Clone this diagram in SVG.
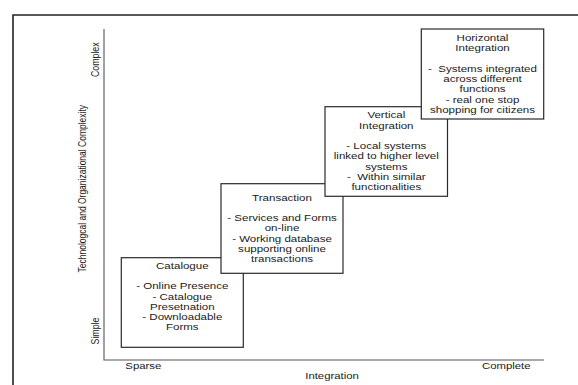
<svg xmlns="http://www.w3.org/2000/svg" width="578" height="385" viewBox="0 0 578 385">
<style>
text{font-family:"Liberation Sans",Arial,sans-serif;font-size:8.8px;fill:#1a1a1a;text-anchor:middle;white-space:pre}
.box{fill:#fff;stroke:#2a2a2a;stroke-width:1.2}
.axis{stroke:#555;stroke-width:1.1;fill:none}
.frame{stroke:#222;stroke-width:1.6;fill:none}
</style>
<rect width="578" height="385" fill="#fff"/>
<path class="frame" d="M13,385 V15 H578"/>
<g id="axes">
<path class="axis" d="M104,29 V360 H544"/>
<g transform="translate(143.3,0) scale(1.29,1)"><text x="0" y="369">Sparse</text></g>
<g transform="translate(506.3,0) scale(1.29,1)"><text x="0" y="369">Complete</text></g>
<g transform="translate(332,0) scale(1.29,1)"><text x="0" y="379.2">Integration</text></g>
<g transform="translate(95,59.7) scale(1.31,1) rotate(-90)"><text x="0" y="3.2">Complex</text></g>
<g transform="translate(95,331) scale(1.31,1) rotate(-90)"><text x="0" y="3.2">Simple</text></g>
<g transform="translate(81.8,188.7) scale(1.31,1) rotate(-90)"><text x="0" y="3.2" style="font-size:8.5px">Technologcal and Organizational Complexity</text></g>
</g>
<g id="connectors"></g>
<g id="catalogue">
<rect class="box" x="121.3" y="257.7" width="122" height="89.6"/>
<g transform="translate(182.3,0) scale(1.31,1)">
<text x="0" y="269.2">Catalogue</text>
<text x="0" y="289.5">- Online Presence</text>
<text x="0" y="299.9">- Catalogue</text>
<text x="0" y="309.9">Presetnation</text>
<text x="0" y="320.2">- Downloadable</text>
<text x="0" y="330.5">Forms</text>
</g>
</g>
<g id="transaction">
<rect class="box" x="221" y="183.7" width="122" height="89.6"/>
<g transform="translate(282,0) scale(1.31,1)">
<text x="0" y="200.9">Transaction</text>
<text x="0" y="221.2">- Services and Forms</text>
<text x="0" y="231.5">on-line</text>
<text x="0" y="241.9">- Working database</text>
<text x="0" y="251.9">supporting online</text>
<text x="0" y="262.2">transactions</text>
</g>
</g>
<g id="vertical">
<rect class="box" x="325" y="106.7" width="122.5" height="89.6"/>
<g transform="translate(386.3,0) scale(1.31,1)">
<text x="0" y="118.5">Vertical</text>
<text x="0" y="128.9">Integration</text>
<text x="0" y="149.2">- Local systems</text>
<text x="0" y="159.5">linked to higher level</text>
<text x="0" y="169.9">systems</text>
<text x="0" y="180.2">-  Within similar</text>
<text x="0" y="190.2">functionalities</text>
</g>
</g>
<g id="horizontal">
<rect class="box" x="421.3" y="29" width="122.4" height="90"/>
<g transform="translate(482.5,0) scale(1.31,1)">
<text x="0" y="40.9">Horizontal</text>
<text x="0" y="51.2">Integration</text>
<text x="0" y="71.9">-  Systems integrated</text>
<text x="0" y="82.2">across different</text>
<text x="0" y="92.5">functions</text>
<text x="0" y="102.9">- real one stop</text>
<text x="0" y="113.2">shopping for citizens</text>
</g>
</g>
</svg>
